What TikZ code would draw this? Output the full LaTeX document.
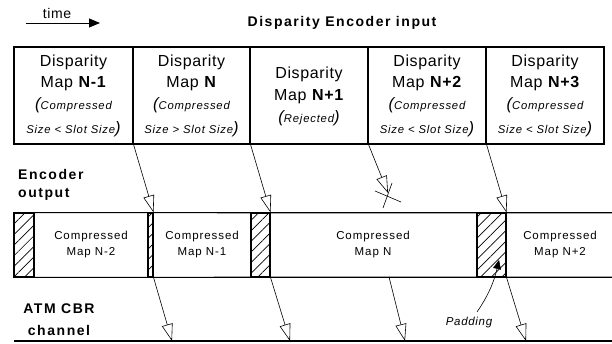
\documentclass[tikz,border=0pt]{standalone}
\usepackage{fontspec}
\setmainfont{Liberation Sans}
\usetikzlibrary{arrows.meta,patterns.meta}
\newcommand\bigparen[1]{{\fontsize{16.5}{16.5}\selectfont\itshape #1}}
\tikzset{
  px/.style={x=1pt,y=-1pt},
  slot/.style={draw,line width=1.1pt,rectangle,inner sep=0pt,minimum height=97pt},
  seg/.style={rectangle,inner sep=0pt,minimum height=64pt},
  pad/.style={seg,draw,line width=1.1pt,pattern={Lines[angle=45,distance=7.5pt,line width=0.7pt]}},
  bigtxt/.style={inner sep=0pt,font=\fontsize{16}{16}\selectfont\addfontfeature{LetterSpace=4}},
  smalltxt/.style={inner sep=0pt,font=\fontsize{11.3}{11.3}\selectfont\itshape\addfontfeature{LetterSpace=7}},
  striptxt/.style={inner sep=0pt,align=center,font=\fontsize{11.5}{16}\selectfont\addfontfeature{LetterSpace=8}},
  lbl/.style={inner sep=0pt,font=\fontsize{14}{14}\selectfont\bfseries\addfontfeature{LetterSpace=11}},
  flow/.style={line width=0.6pt,-{Triangle[open,length=17pt,width=11pt,fill=white]}},
}
\begin{document}
\begin{tikzpicture}[px]
\useasboundingbox (0,0) rectangle (612,344);
% time
\node[inner sep=0pt,font=\fontsize{14}{14}\selectfont\addfontfeature{LetterSpace=4}] (time) at (57,14) {time};
\coordinate (t0) at (26,23);
\coordinate (t1) at (100,23);
\draw[line width=0.9pt,-{Triangle[length=11pt,width=9pt]}] (t0) -- (t1);
\node[lbl] (title) at (342,23) {Disparity Encoder input};
% top slots
\node[slot,minimum width=119pt] (in1) at (73.5,95.5) {};
\node[slot,minimum width=117pt] (in2) at (191.5,95.5) {};
\node[slot,minimum width=118pt] (in3) at (309,95.5) {};
\node[slot,minimum width=118pt] (in4) at (427,95.5) {};
\node[slot,minimum width=118pt] (in5) at (545,95.5) {};
% texts box 1
\node[bigtxt] (a1) at (73.5,62) {Disparity};
\node[bigtxt] (a2) at (73.5,84) {Map \textbf{N-1}};
\node[smalltxt] (a3) at (73.5,105) {\bigparen{(}Compressed};
\node[smalltxt] (a4) at (73.5,129) {Size < Slot Size\bigparen{)}};
% box 2
\node[bigtxt] (b1) at (191.5,62) {Disparity};
\node[bigtxt] (b2) at (191.5,84) {Map \textbf{N}};
\node[smalltxt] (b3) at (191.5,105) {\bigparen{(}Compressed};
\node[smalltxt] (b4) at (191.5,129) {Size > Slot Size\bigparen{)}};
% box 3
\node[bigtxt] (c1) at (309,74) {Disparity};
\node[bigtxt] (c2) at (309,97) {Map \textbf{N+1}};
\node[smalltxt] (c3) at (309,118) {\bigparen{(}Rejected\bigparen{)}};
% box 4
\node[bigtxt] (d1) at (427,62) {Disparity};
\node[bigtxt] (d2) at (427,84) {Map \textbf{N+2}};
\node[smalltxt] (d3) at (427,105) {\bigparen{(}Compressed};
\node[smalltxt] (d4) at (427,129) {Size < Slot Size\bigparen{)}};
% box 5
\node[bigtxt] (e1t) at (545,62) {Disparity};
\node[bigtxt] (e2t) at (545,84) {Map \textbf{N+3}};
\node[smalltxt] (e3t) at (545,105) {\bigparen{(}Compressed};
\node[smalltxt] (e4t) at (545,129) {Size < Slot Size\bigparen{)}};
% labels
\node[lbl,anchor=west] (eo1) at (18,174) {Encoder};
\node[lbl,anchor=west] (eo2) at (18,194) {output};
\node[lbl] (atm1) at (59,309) {ATM CBR};
\node[lbl] (atm2) at (59,330) {channel};
% encoder output strip
\node[pad,minimum width=20pt] (p0) at (24,245) {};
\node[seg,minimum width=114pt] (s1) at (91,245) {};
\node[pad,minimum width=5pt] (p1) at (150.5,245) {};
\node[seg,minimum width=98pt] (s2) at (202,245) {};
\node[pad,minimum width=19pt] (p2) at (260.5,245) {};
\node[seg,minimum width=207pt] (s3) at (373.5,245) {};
\node[pad,minimum width=29pt] (p3) at (491.5,245) {};
\node[seg,minimum width=106pt] (s4) at (559,245) {};
\draw[line width=1.1pt] (p0.north west) -- (s4.north east);
\draw[line width=1.1pt] (p0.south west) -- (s4.south east);
\node[striptxt] (t1) at (91,245) {Compressed\\Map N-2};
\node[striptxt] (t2) at (202,245) {Compressed\\Map N-1};
\node[striptxt] (t3) at (373,245) {Compressed\\Map N};
\node[striptxt] (t4) at (560,245) {Compressed\\Map N+2};
% channel
\coordinate (ch0) at (14,341);
\coordinate (ch1) at (612,341);
\draw[line width=1.5pt] (ch0) -- (ch1);
% arrows input -> encoder output
\coordinate (rej) at (388,193);
\draw[flow] (in1.south east) -- (p1.north east);
\draw[flow] (in2.south east) -- (p2.north east);
\draw[flow] (in3.south east) -- (rej);
\draw[flow] (in4.south east) -- (p3.north east);
\coordinate (x1a) at (375,191);
\coordinate (x1b) at (401,202);
\coordinate (x2a) at (392,183);
\coordinate (x2b) at (383,208);
\draw[line width=0.6pt] (x1a) -- (x1b);
\draw[line width=0.6pt] (x2a) -- (x2b);
% arrows encoder output -> channel
\coordinate (o1) at (172,341);
\coordinate (o2) at (290,341);
\coordinate (o3s) at (389,277);
\coordinate (o3) at (405,341);
\coordinate (o4) at (526,341);
\draw[flow] (p1.south east) -- (o1);
\draw[flow] (p2.south east) -- (o2);
\draw[flow] (o3s) -- (o3);
\draw[flow] (p3.south east) -- (o4);
% padding
\node[inner sep=0pt,font=\fontsize{11.5}{11.5}\selectfont\itshape\addfontfeature{LetterSpace=6}] (padlbl) at (469,323) {Padding};
\coordinate (pstart) at (477,312);
\coordinate (ptip) at (499,260);
\draw[line width=0.6pt,-{Triangle[length=9pt,width=8pt]}] (pstart) .. controls (488,296) and (494,282) .. (ptip);
\end{tikzpicture}
\end{document}
